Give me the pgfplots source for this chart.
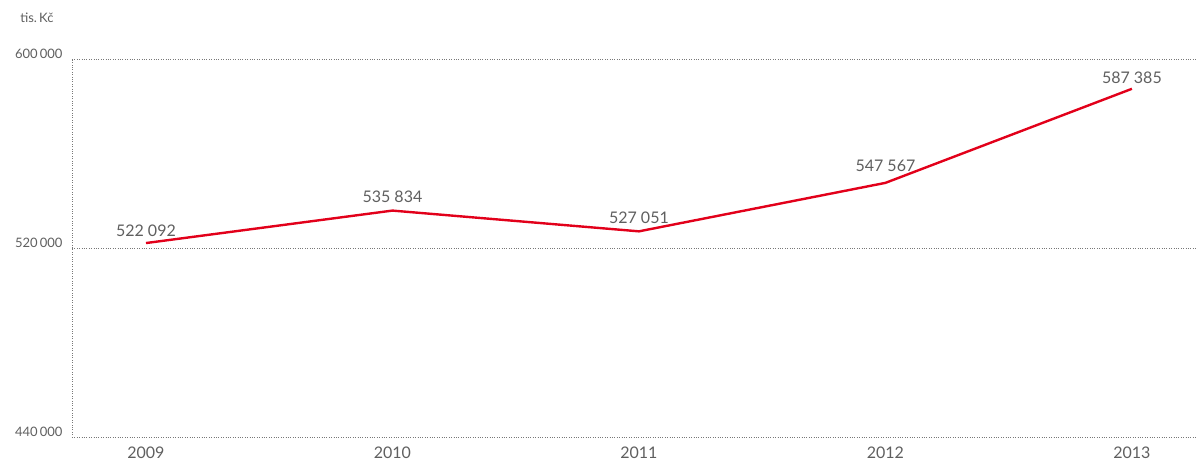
\documentclass[border=0pt]{standalone}
\usepackage{fontspec}
\setmainfont{Lato}
\usepackage{pgfplots}
\pgfplotsset{compat=1.18}
\definecolor{linered}{RGB}{226,0,26}
\definecolor{txtgray}{RGB}{95,95,95}
\definecolor{gridgray}{RGB}{120,120,120}
\begin{document}
\begin{tikzpicture}
  \path[use as bounding box] (-72pt,-24pt) rectangle (1124pt,437pt);
  \begin{axis}[
    at={(0pt,0pt)}, anchor=south west,
    scale only axis,
    width=1124pt, height=378pt,
    xmin=2008.7, xmax=2013.26,
    ymin=440000, ymax=600000,
    axis lines=left,
    axis line style={gridgray, dotted, -},
    xtick={2009,2010,2011,2012,2013},
    xticklabels={2009,2010,2011,2012,2013},
    ytick={440000,520000,600000},
    yticklabels={440\,000,520\,000,600\,000},
    scaled y ticks=false,
    major tick length=0pt,
    ymajorgrids,
    grid style={gridgray, dotted},
    ticklabel style={txtgray},
    yticklabel style={font=\fontsize{13}{13}\selectfont, yshift=5pt, xshift=-6pt},
    xticklabel style={font=\fontsize{16}{16}\selectfont, yshift=-6pt},
    clip=false,
    nodes near coords,
    point meta=explicit symbolic,
    visualization depends on={\thisrow{dy}\as\dy},
    every node near coord/.append style={txtgray, font=\fontsize{16}{16}\selectfont, yshift=\dy pt},
  ]
    \addplot[linered, line width=2.4pt, mark=none] table[meta=label] {
      x y label dy
      2009 522092 {522\ 092} 2
      2010 535834 {535\ 834} 3
      2011 527051 {527\ 051} 3
      2012 547567 {547\ 567} 7
      2013 587385 {587\ 385} 1
    };
  \end{axis}
  \node[anchor=east, txtgray, font=\fontsize{13}{13}\selectfont] at (-15pt,419pt) {tis.\,Kč};
\end{tikzpicture}
\end{document}
